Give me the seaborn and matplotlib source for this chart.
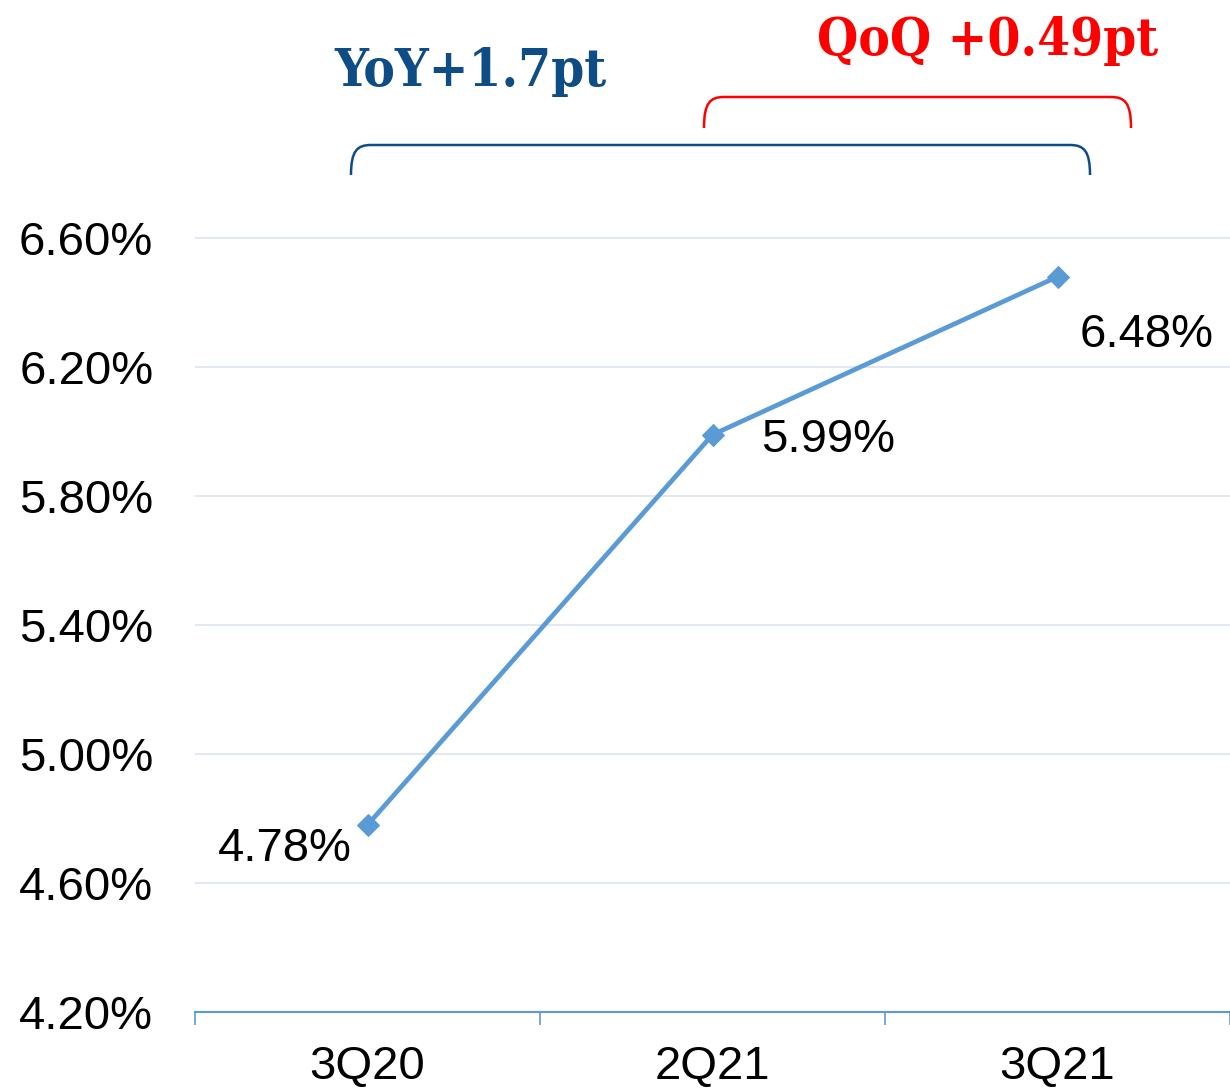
import matplotlib
matplotlib.use("Agg")
import matplotlib.pyplot as plt
import seaborn as sns
import pandas as pd
from matplotlib.path import Path
from matplotlib.patches import PathPatch

quarters = ["3Q20", "2Q21", "3Q21"]
ratio = [4.78, 5.99, 6.48]
labels = ["4.78%", "5.99%", "6.48%"]
yticks = [4.2, 4.6, 5.0, 5.4, 5.8, 6.2, 6.6]

df = pd.DataFrame({"quarter": quarters, "ratio": ratio})

sns.set_theme(style="white")
plt.rcParams["font.family"] = ["Liberation Sans", "DejaVu Sans"]

W, H = 1230, 1089
fig = plt.figure(figsize=(12.3, 10.89), dpi=100)
ax = fig.add_axes([195 / W, 1 - 1012 / H, 1035 / W, (1012 - 173.5) / H])

blue = "#5B9BD5"
sns.lineplot(data=df, x="quarter", y="ratio", ax=ax, color=blue, linewidth=3.4,
             marker="D", markersize=11, markeredgecolor=blue, sort=False)

ax.set_xlim(-0.5, 2.5)
ax.set_ylim(4.2, 6.8)
ax.set_yticks(yticks)
ax.set_yticklabels([f"{v:.2f}%" for v in yticks], fontsize=34, color="black")
ax.yaxis.grid(True, color="#DCE4EE", linewidth=1.2)
ax.set_axisbelow(True)
ax.tick_params(axis="y", length=0, pad=30)
ax.set_xticks(range(len(quarters)))
ax.set_xticklabels(quarters, fontsize=34, color="black")
ax.set_xticks([-0.5, 0.5, 1.5, 2.5], minor=True)
ax.tick_params(axis="x", which="major", length=0, pad=24)
ax.tick_params(axis="x", which="minor", length=9, width=1.2, color=blue, bottom=True)
for s in ["left", "right", "top"]:
    ax.spines[s].set_visible(False)
ax.spines["bottom"].set_color(blue)
ax.spines["bottom"].set_linewidth(1.5)
ax.set_xlabel("")
ax.set_ylabel("")

offsets = [(-11, -17, "right"), (35, -4, "left"), (16, -42, "left")]
for i, (dx, dy, ha) in enumerate(offsets):
    ax.annotate(labels[i], (i, ratio[i]), xytext=(dx, dy), textcoords="offset points",
                ha=ha, va="center", fontsize=34, color="black")


def bracket(x0, x1, yt, yb, color):
    r = 20
    pts = [(x0, yb), (x0, yt + 6), (x0 + 6, yt), (x0 + r, yt),
           (x1 - r, yt), (x1 - 6, yt), (x1, yt + 6), (x1, yb)]
    codes = [Path.MOVETO, Path.CURVE4, Path.CURVE4, Path.CURVE4,
             Path.LINETO, Path.CURVE4, Path.CURVE4, Path.CURVE4]
    verts = [(x / W, 1 - y / H) for x, y in pts]
    fig.patches.append(PathPatch(Path(verts, codes), transform=fig.transFigure,
                                 fill=False, edgecolor=color, linewidth=1.8))


navy = "#0D4C84"
red = "#FF0000"
bracket(351, 1090, 145, 175, navy)
bracket(704, 1131, 97, 128, red)

serif = ["DejaVu Serif", "Liberation Serif"]
fig.text(470 / W, 1 - 86 / H, "YoY+1.7pt", ha="center", va="baseline",
         fontsize=38, color=navy, family=serif, fontstretch="condensed",
         fontweight="bold")
fig.text(988 / W, 1 - 55 / H, "QoQ +0.49pt", ha="center", va="baseline",
         fontsize=38, color=red, family=serif, fontstretch="condensed",
         fontweight="bold")

fig.savefig("out.png", dpi=100)
